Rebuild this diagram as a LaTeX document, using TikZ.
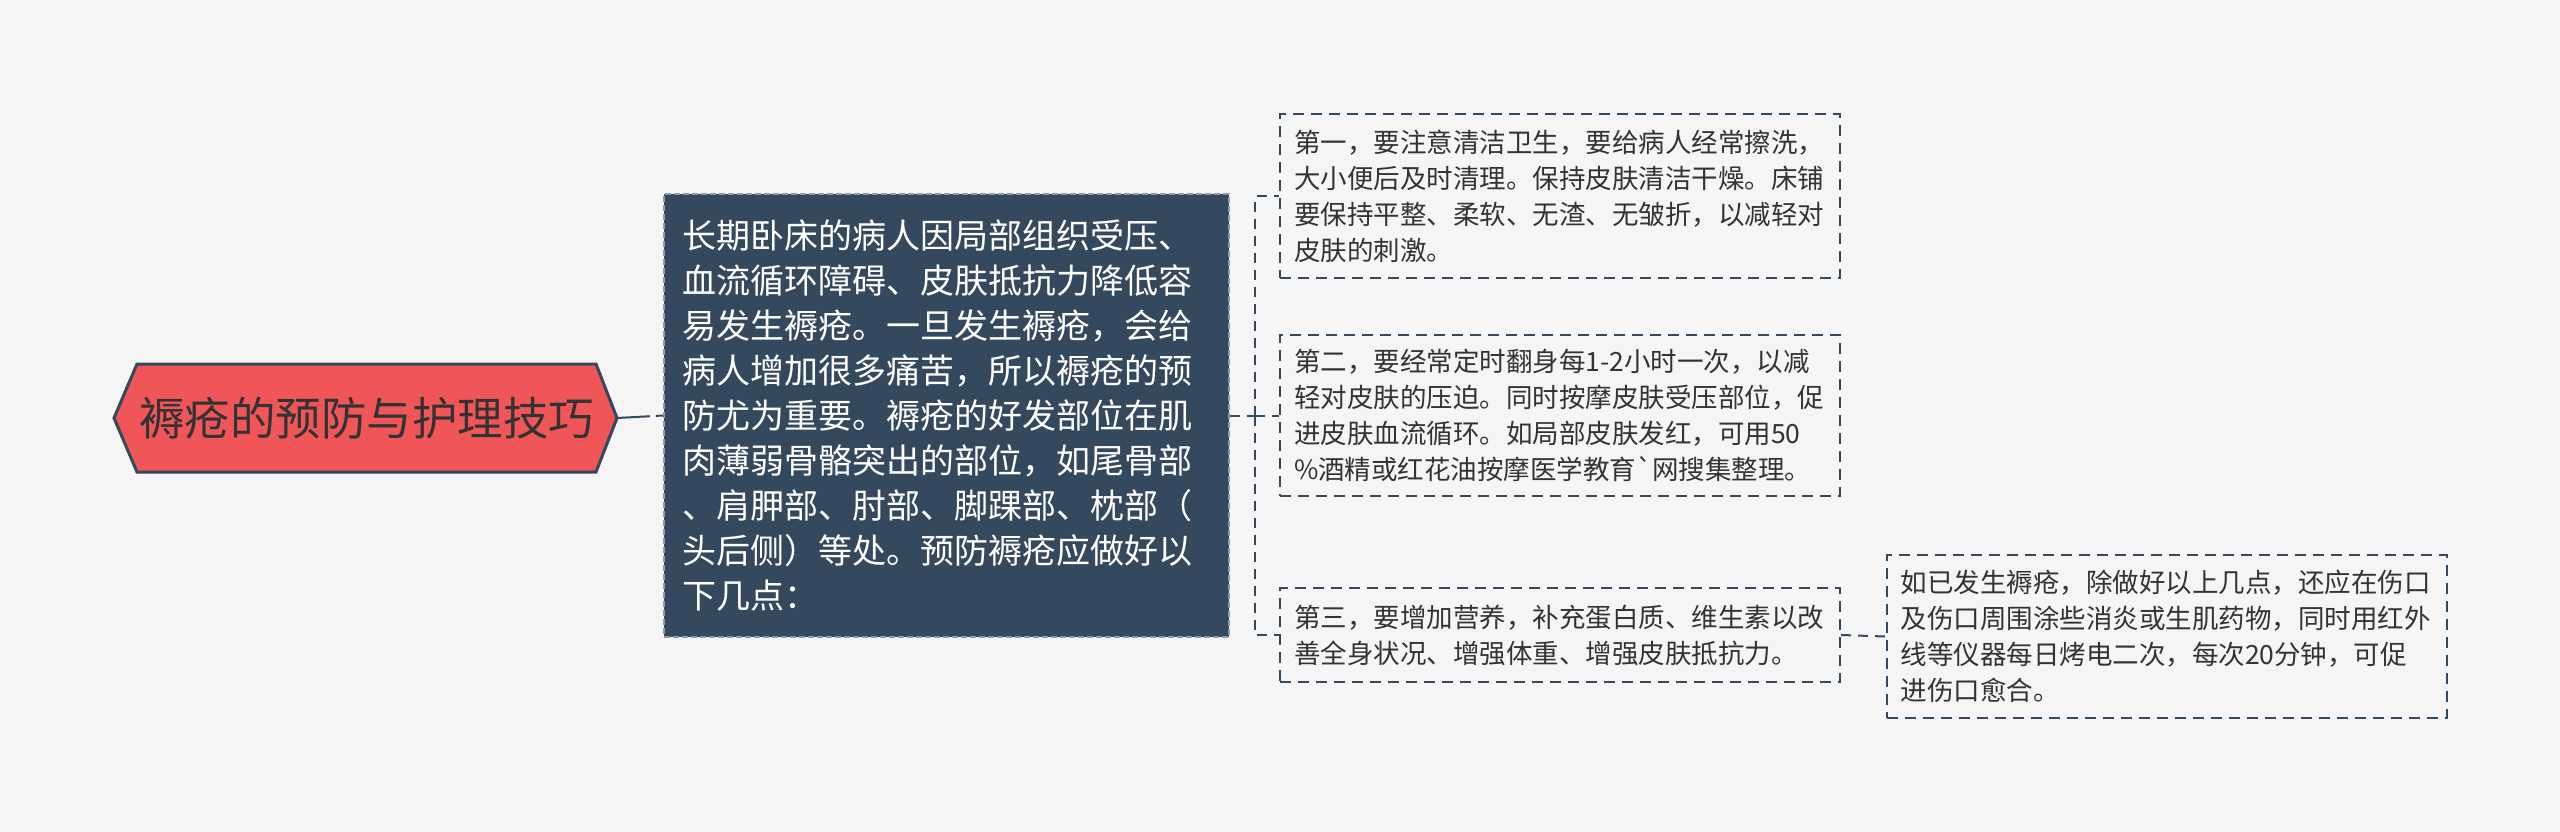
\documentclass[tikz,border=0pt]{standalone}
\usepackage{fontspec}
\setmainfont{Noto Sans CJK SC}[Ligatures=TeXOff]
\usetikzlibrary{calc}
\definecolor{bg}{HTML}{F5F5F5}
\definecolor{navy}{HTML}{34495E}
\definecolor{rootred}{HTML}{F05657}
\definecolor{txt}{HTML}{333333}
\definecolor{midborder}{HTML}{8A9BAE}
\begin{document}
\begin{tikzpicture}[x=1pt,y=-1pt,
 conn/.style={draw=navy, line width=2pt, dash pattern=on 10pt off 7pt},
 leafbox/.style={draw=navy, line width=2pt, dash pattern=on 11pt off 7pt, fill=bg, text=txt, align=left, text width=532pt, inner xsep=14pt, inner ysep=0pt, font=\fontsize{26.5}{36}\selectfont},
 midbox/.style={fill=navy, draw=midborder, line width=1.5pt, dash pattern=on 6pt off 3pt, text=white, align=left, text width=529pt, inner xsep=18pt, inner ysep=0pt, minimum width=565pt, minimum height=443pt, font=\fontsize{34}{41}\selectfont},
 roothex/.style={fill=rootred, draw=navy, line width=3pt, line join=miter},
 roottext/.style={text=txt, inner sep=0pt, font=\fontsize{45.5}{50}\selectfont}
]
\path[use as bounding box, fill=bg] (0,0) rectangle (2560,832);

% root hexagon
\coordinate (rootL) at (114,418);
\coordinate (rootR) at (617,418);
\path[roothex] (rootL) -- (137,364) -- (596,364) -- (rootR) -- (596,472) -- (137,472) -- cycle;
\node[roottext] (root) at (366.5,418) {褥疮的预防与护理技巧};

% middle node
\node[midbox] (mid) at (946.5,415.5) {长期卧床的病人因局部组织受压、\\[4pt]血流循环障碍、皮肤抵抗力降低容\\[4pt]易发生褥疮。一旦发生褥疮，会给\\[4pt]病人增加很多痛苦，所以褥疮的预\\[4pt]防尤为重要。褥疮的好发部位在肌\\[4pt]肉薄弱骨骼突出的部位，如尾骨部\\[4pt]、肩胛部、肘部、脚踝部、枕部（\\[4pt]头后侧）等处。预防褥疮应做好以\\[4pt]下几点：};

% leaf nodes
\node[leafbox, minimum height=164pt] (b1) at (1560,196) {第一，要注意清洁卫生，要给病人经常擦洗，\\大小便后及时清理。保持皮肤清洁干燥。床铺\\要保持平整、柔软、无渣、无皱折，以减轻对\\皮肤的刺激。};
\node[leafbox, minimum height=161pt] (b2) at (1560,415.5) {第二，要经常定时翻身每1-2小时一次，以减\\轻对皮肤的压迫。同时按摩皮肤受压部位，促\\进皮肤血流循环。如局部皮肤发红，可用50\\\%酒精或红花油按摩医学教育`网搜集整理。};
\node[leafbox, minimum height=94pt] (b3) at (1560,635) {第三，要增加营养，补充蛋白质、维生素以改\\善全身状况、增强体重、增强皮肤抵抗力。};
\node[leafbox, minimum height=163pt] (b4) at (2166.5,636.5) {如已发生褥疮，除做好以上几点，还应在伤口\\及伤口周围涂些消炎或生肌药物，同时用红外\\线等仪器每日烤电二次，每次20分钟，可促\\进伤口愈合。};

% connectors
\draw[conn, dash pattern=on 33pt off 6pt on 8pt off 20pt] (rootR) -- (mid.west);
\coordinate (trunk) at (1255,415.5);
\draw[conn] (mid.east) -- (trunk);
\draw[conn] (trunk) |- (b1.west);
\draw[conn] (trunk) |- (b2.west);
\draw[conn] (trunk) |- (b3.west);
\draw[conn] (b3.east) -- (b4.west);
\end{tikzpicture}
\end{document}
